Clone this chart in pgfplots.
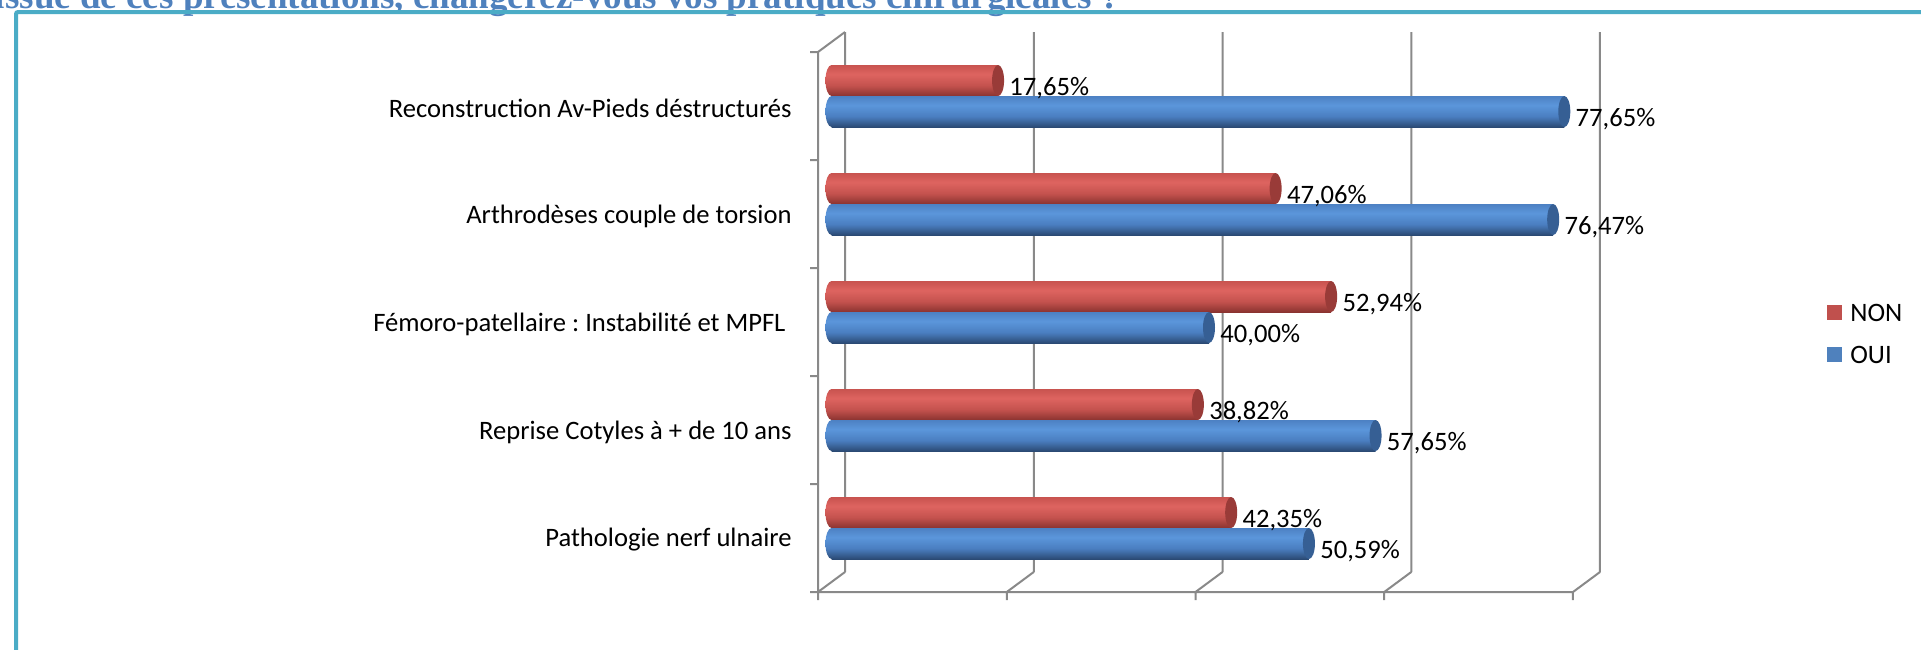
\documentclass[border=0pt]{standalone}
\usepackage{fontspec}
\setmainfont{Carlito}
\newfontfamily\titlefont{Liberation Serif}
\usepackage{pgfplots}
\pgfplotsset{compat=1.18}
\definecolor{frameC}{HTML}{4BACC6}
\definecolor{titleC}{HTML}{4F81BD}
\definecolor{gridC}{HTML}{898989}
\definecolor{rD}{HTML}{8A3330}
\definecolor{rM}{HTML}{C4524E}
\definecolor{rL}{HTML}{DE6460}
\definecolor{rT}{HTML}{C8534F}
\definecolor{rCap}{HTML}{993B38}
\definecolor{bD}{HTML}{2B4A74}
\definecolor{bM}{HTML}{4A7EC0}
\definecolor{bL}{HTML}{5B96DB}
\definecolor{bT}{HTML}{4D81C3}
\definecolor{bCap}{HTML}{365F94}
\definecolor{legR}{HTML}{C0504D}
\definecolor{legB}{HTML}{4F81BD}
\pgfdeclareverticalshading{redcyl}{100bp}{color(0bp)=(rD); color(25bp)=(rD); color(42bp)=(rM); color(60bp)=(rL); color(75bp)=(rT); color(100bp)=(rT)}
\pgfdeclareverticalshading{bluecyl}{100bp}{color(0bp)=(bD); color(25bp)=(bD); color(42bp)=(bM); color(60bp)=(bL); color(75bp)=(bT); color(100bp)=(bT)}
\pgfdeclareplotmark{capN}{\pgfpathellipse{\pgfqpoint{0pt}{7.75pt}}{\pgfqpoint{3pt}{0pt}}{\pgfqpoint{0pt}{7.75pt}}\pgfusepathqfill}
\pgfdeclareplotmark{capO}{\pgfpathellipse{\pgfqpoint{0pt}{-7.75pt}}{\pgfqpoint{3pt}{0pt}}{\pgfqpoint{0pt}{7.75pt}}\pgfusepathqfill}
\pgfdeclareplotmark{lcapN}{\pgfpathellipse{\pgfqpoint{0pt}{7.75pt}}{\pgfqpoint{3pt}{0pt}}{\pgfqpoint{0pt}{7.75pt}}\pgfshadepath{redcyl}{0}\pgfusepath{discard}}
\pgfdeclareplotmark{lcapO}{\pgfpathellipse{\pgfqpoint{0pt}{-7.75pt}}{\pgfqpoint{3pt}{0pt}}{\pgfqpoint{0pt}{7.75pt}}\pgfshadepath{bluecyl}{0}\pgfusepath{discard}}
\newcommand\labfont{\fontsize{13.3pt}{16pt}\selectfont}
\pgfplotsset{
  nonbar/.style={xbar, bar width=15.5pt, bar shift=7.75pt, draw=none, shade, shading=redcyl,
    nodes near coords, nodes near coords style={yshift=3.75pt}, forget plot},
  ouibar/.style={xbar, bar width=15.5pt, bar shift=-7.75pt, draw=none, shade, shading=bluecyl,
    nodes near coords, nodes near coords style={yshift=-11.75pt}, forget plot},
}
\begin{document}
\frenchspacing
\begin{tikzpicture}
\clip (0,0) rectangle (960.5pt,-324.5pt);
\path[use as bounding box] (0,0) rectangle (960.5pt,-324.5pt);
\fill[white] (0,0) rectangle (960.5pt,-324.5pt);
\node[anchor=base east, inner sep=0pt, text=titleC, font=\titlefont\bfseries\fontsize{18.5pt}{20pt}\selectfont] at (560pt,-4.25pt) {À l’issue de ces présentations, changerez-vous vos pratiques chirurgicales ?};
\draw[frameC, line width=2pt, rounded corners=1pt] (8pt,-330pt) -- (8pt,-6pt) -- (965pt,-6pt);
% grid / 3D frame (front plane axis)
\begin{axis}[
  at={(409pt,-296pt)}, anchor=south west,
  scale only axis, width=377.5pt, height=270pt,
  xmin=0, xmax=80, ymin=-0.5, ymax=4.5,
  clip=false,
  axis line style={draw=none},
  tick style={draw=none},
  major tick length=0pt,
  xtick=\empty,
  ytick={0,1,2,3,4},
  yticklabels={Pathologie nerf ulnaire, Reprise Cotyles à + de 10 ans, {Fémoro-patellaire : Instabilité et MPFL\hspace*{0.23em}}, Arthrodèses couple de torsion, Reconstruction Av-Pieds déstructurés},
  yticklabel style={anchor=east, inner sep=0pt, xshift=-13pt, yshift=-1pt, font=\labfont, text=black},
  unbounded coords=jump,
]
\addplot[gridC, line width=1pt, forget plot] coordinates {
 (2.861,-0.3148) (2.861,4.6852) (nan,nan)
 (22.861,-0.3148) (22.861,4.6852) (nan,nan)
 (42.861,-0.3148) (42.861,4.6852) (nan,nan)
 (62.861,-0.3148) (62.861,4.6852) (nan,nan)
 (82.861,-0.3148) (82.861,4.6852) (nan,nan)
 (0,-0.5) (2.861,-0.3148) (nan,nan)
 (20,-0.5) (22.861,-0.3148) (nan,nan)
 (40,-0.5) (42.861,-0.3148) (nan,nan)
 (60,-0.5) (62.861,-0.3148) (nan,nan)
 (80,-0.5) (82.861,-0.3148) (nan,nan)
 (0,-0.5) (80,-0.5) (nan,nan)
 (0,-0.5) (0,-0.574) (nan,nan)
 (20,-0.5) (20,-0.574) (nan,nan)
 (40,-0.5) (40,-0.574) (nan,nan)
 (60,-0.5) (60,-0.574) (nan,nan)
 (80,-0.5) (80,-0.574) (nan,nan)
 (0,-0.5) (0,4.5) (2.861,4.6852) (nan,nan)
 (-0.848,-0.5) (0,-0.5) (nan,nan)
 (-0.848,0.5) (0,0.5) (nan,nan)
 (-0.848,1.5) (0,1.5) (nan,nan)
 (-0.848,2.5) (0,2.5) (nan,nan)
 (-0.848,3.5) (0,3.5) (nan,nan)
 (-0.848,4.5) (0,4.5)
};
\end{axis}
% bars (mid-depth plane)
\begin{axis}[
  at={(415.75pt,-291pt)}, anchor=south west,
  scale only axis, width=377.5pt, height=270pt,
  xmin=0, xmax=80, ymin=-0.5, ymax=4.5,
  clip=false, hide axis,
  point meta=explicit symbolic,
  nodes near coords style={anchor=west, inner sep=0pt, xshift=5.5pt, font=\labfont, text=black},
  legend style={at={(1.3185,0.4593)}, anchor=west, draw=none, fill=none, inner sep=0pt, row sep=12pt, font=\labfont,
    nodes={inner sep=0pt, text height=9pt, text depth=0pt},
    /tikz/every odd column/.append style={column sep=4pt}},
  legend cell align=left,
  legend image code/.code={\fill[#1] (0pt,-3.75pt) rectangle (7.5pt,3.75pt);},
]
\addplot[only marks, mark=lcapN, forget plot] coordinates {(0,0) (0,1) (0,2) (0,3) (0,4)};
\addplot[only marks, mark=lcapO, forget plot] coordinates {(0,0) (0,1) (0,2) (0,3) (0,4)};
% NON
\addplot[nonbar] coordinates {(42.35,0) [42,35\%]};
\addplot[nonbar] coordinates {(38.82,1) [38,82\%]};
\addplot[nonbar] coordinates {(52.94,2) [52,94\%]};
\addplot[nonbar] coordinates {(47.06,3) [47,06\%]};
\addplot[nonbar] coordinates {(17.65,4) [17,65\%]};
% OUI
\addplot[ouibar] coordinates {(50.59,0) [50,59\%]};
\addplot[ouibar] coordinates {(57.65,1) [57,65\%]};
\addplot[ouibar] coordinates {(40.00,2) [40,00\%]};
\addplot[ouibar] coordinates {(76.47,3) [76,47\%]};
\addplot[ouibar] coordinates {(77.65,4) [77,65\%]};
\addplot[only marks, mark=capN, mark options={fill=rCap, draw=none}, forget plot]
 coordinates {(42.35,0) (38.82,1) (52.94,2) (47.06,3) (17.65,4)};
\addplot[only marks, mark=capO, mark options={fill=bCap, draw=none}, forget plot]
 coordinates {(50.59,0) (57.65,1) (40.00,2) (76.47,3) (77.65,4)};
\addlegendimage{fill=legR, draw=none}
\addlegendentry{NON}
\addlegendimage{fill=legB, draw=none}
\addlegendentry{OUI}
\end{axis}
\end{tikzpicture}
\end{document}
